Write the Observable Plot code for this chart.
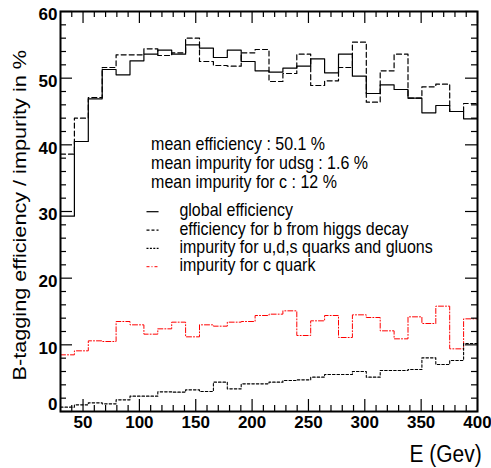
<!DOCTYPE html>
<html>
<head>
<meta charset="utf-8">
<script src="https://cdn.jsdelivr.net/npm/d3@7"></script>
<script src="https://cdn.jsdelivr.net/npm/@observablehq/plot@0.6"></script>
<style>
  html, body { margin: 0; padding: 0; background: #fff; }
  #chart { width: 491px; height: 468px; }
</style>
</head>
<body>
<div id="chart"></div>
<script>
// ---- data ----
const binLow = 30, binHigh = 400, nBins = 30;   // 30 equal bins, E in GeV
const globalEff = [29.3, 40.5, 46.9, 51.3, 50.5, 52.6, 53.6, 54.2, 53.6, 55.0,
                   54.5, 53.1, 54.2, 52.5, 51.1, 50.9, 51.5, 51.8, 52.9, 50.8,
                   53.6, 50.3, 47.7, 49.0, 48.3, 47.0, 44.8, 45.9, 45.0, 43.9];
const bHiggsEff = [38.6, 44.0, 47.1, 51.6, 53.5, 53.5, 54.4, 53.4, 53.8, 56.0,
                   52.5, 51.9, 51.8, 53.8, 54.3, 49.5, 50.7, 53.6, 48.9, 49.6,
                   51.6, 55.4, 46.4, 51.1, 53.6, 47.0, 48.7, 49.1, 45.0, 46.2];
const udsgImp   = [0.65, 1.0, 1.3, 1.15, 1.75, 2.3, 2.3, 2.95, 2.9, 3.25,
                   3.0, 4.4, 3.4, 4.15, 4.15, 4.4, 4.65, 4.75, 5.15, 5.55,
                   5.55, 6.0, 5.15, 6.15, 6.15, 6.3, 8.05, 7.05, 7.65, 10.2];
const cImp      = [8.5, 9.1, 10.6, 10.5, 13.5, 13.0, 11.6, 12.4, 13.4, 11.2,
                   13.0, 12.8, 13.4, 13.5, 14.4, 14.6, 15.1, 11.4, 13.6, 14.4,
                   11.1, 14.5, 14.1, 12.1, 10.9, 14.2, 13.2, 15.8, 9.4, 13.9];
const xMajorTicks = [50, 100, 150, 200, 250, 300, 350, 400];
const xMinorTicks = [40, 60, 70, 80, 90, 110, 120, 130, 140, 160, 170, 180, 190, 210, 220, 230, 240,
                     260, 270, 280, 290, 310, 320, 330, 340, 360, 370, 380, 390];
const yMajorTicks = [0, 10, 20, 30, 40, 50, 60];
const yMinorTicks = [2, 4, 6, 8, 12, 14, 16, 18, 22, 24, 26, 28, 32, 34, 36, 38, 42, 44, 46, 48, 52, 54, 56, 58];
const statsLines = ["mean efficiency : 50.1 %", "mean impurity for udsg : 1.6 %", "mean impurity for c : 12 %"];
const legendLabels = ["global efficiency", "efficiency for b from higgs decay",
                      "impurity for u,d,s quarks and gluons", "impurity for c quark"];
const xTitle = "E (Gev)";
const yTitle = "B-tagging efficiency / impurity in %";

// ---- derived ----
const edges = d3.range(nBins + 1).map(i => binLow + i * (binHigh - binLow) / nBins);
function stepPoints(values) {
  const pts = [];
  values.forEach((v, i) => { pts.push({x: edges[i], y: v}); pts.push({x: edges[i + 1], y: v}); });
  return pts;
}
const series = [
  {values: cImp,      stroke: "#ff0000", dash: "5,2,1,2", legendDash: "3,2,1,2", width: 1},
  {values: udsgImp,   stroke: "#000",    dash: "2.5,2",   legendDash: "2,1.4",   width: 1.1},
  {values: bHiggsEff, stroke: "#000",    dash: "5,3",     legendDash: "3,2",     width: 1.2},
  {values: globalEff, stroke: "#000",    dash: null,      legendDash: null,      width: 1.2}
];
const legendStyles = [series[3], series[2], series[1], series[0]];

const W = 491, H = 468, mL = 60, mR = 14, mT = 11, mB = 57;
const PW = W - mL - mR, PH = H - mT - mB;
const font = "'Liberation Sans', Helvetica, Arial, sans-serif";

const marks = [];
series.forEach(s => {
  marks.push(Plot.line(stepPoints(s.values), {
    x: "x", y: "y", stroke: s.stroke, strokeWidth: s.width,
    strokeDasharray: s.dash || undefined, curve: "linear"
  }));
});
marks.push(
  Plot.tickY(yMajorTicks, {y: d => d, insetRight: PW - 12, stroke: "#000", strokeWidth: 1.2}),
  Plot.tickY(yMinorTicks, {y: d => d, insetRight: PW - 6,  stroke: "#000", strokeWidth: 1.2}),
  Plot.tickY(yMajorTicks, {y: d => d, insetLeft: PW - 12,  stroke: "#000", strokeWidth: 1.2}),
  Plot.tickY(yMinorTicks, {y: d => d, insetLeft: PW - 6,   stroke: "#000", strokeWidth: 1.2}),
  Plot.tickX(xMajorTicks, {x: d => d, insetTop: PH - 12,   stroke: "#000", strokeWidth: 1.2}),
  Plot.tickX(xMinorTicks, {x: d => d, insetTop: PH - 6,    stroke: "#000", strokeWidth: 1.2}),
  Plot.tickX(xMajorTicks, {x: d => d, insetBottom: PH - 12, stroke: "#000", strokeWidth: 1.2}),
  Plot.tickX(xMinorTicks, {x: d => d, insetBottom: PH - 6,  stroke: "#000", strokeWidth: 1.2})
);
marks.push(
  Plot.axisX(xMajorTicks, {anchor: "bottom", tickSize: 0, tickPadding: 4, label: null,
    fontSize: 17, fontWeight: "bold"}),
  Plot.axisY(yMajorTicks.filter(v => v !== 0), {anchor: "left", tickSize: 0, tickPadding: 3, label: null,
    fontSize: 17, fontWeight: "bold", dy: 3.5}),
  Plot.axisY(yMajorTicks.filter(v => v === 0), {anchor: "left", tickSize: 0, tickPadding: 3, label: null,
    fontSize: 17, fontWeight: "bold", dy: -6.5})
);
marks.push(Plot.frame({stroke: "#000", strokeWidth: 2}));

// statistics box text (anchored in data coordinates)
marks.push(Plot.text(statsLines, {
  x: () => 110.4, y: (d, i) => 40.1 - 2.85 * i, text: d => d,
  textAnchor: "start", fontSize: 16
}));
// legend samples and labels
legendStyles.forEach((s, i) => {
  marks.push(Plot.link([legendLabels[i]], {
    x1: () => 106.3, x2: () => 117.0, y1: () => 29.97 - 2.75 * i, y2: () => 29.97 - 2.75 * i,
    stroke: s.stroke, strokeWidth: s.width, strokeDasharray: s.legendDash || undefined
  }));
});
marks.push(Plot.text(legendLabels, {
  x: () => 135.5, y: (d, i) => 30.15 - 2.75 * i, text: d => d,
  textAnchor: "start", fontSize: 16
}));
// axis titles
marks.push(Plot.text([xTitle], {
  frameAnchor: "bottom-right", text: d => d, textAnchor: "end", fontSize: 21,
  dx: 4.2, dy: 50.2
}));
marks.push(Plot.text([yTitle], {
  frameAnchor: "top-left", text: d => d, textAnchor: "end", fontSize: 19, rotate: -90,
  dx: -47.5, dy: 38.5
}));

const svg = Plot.plot({
  width: W, height: H,
  marginLeft: mL, marginRight: mR, marginTop: mT, marginBottom: mB,
  x: {domain: [binLow, binHigh]},
  y: {domain: [0, 60]},
  style: {fontFamily: font, fontSize: "16px", background: "#fff", color: "#000", overflow: "visible"},
  marks
});

// the reference's text glyphs are stretched: append a scale to each text's own transform
function stretch(strings, sx, sy) {
  svg.querySelectorAll("text").forEach(t => {
    if (strings.includes(t.textContent)) {
      const tr = t.getAttribute("transform") || "";
      t.setAttribute("transform", tr + ` scale(${sx},${sy})`);
    }
  });
}
stretch(statsLines, 1, 1.15);
stretch(legendLabels, 1, 1.15);
stretch([xTitle], 1, 1.11);
stretch([yTitle], 1.14, 1);

document.getElementById("chart").appendChild(svg);
</script>
</body>
</html>
